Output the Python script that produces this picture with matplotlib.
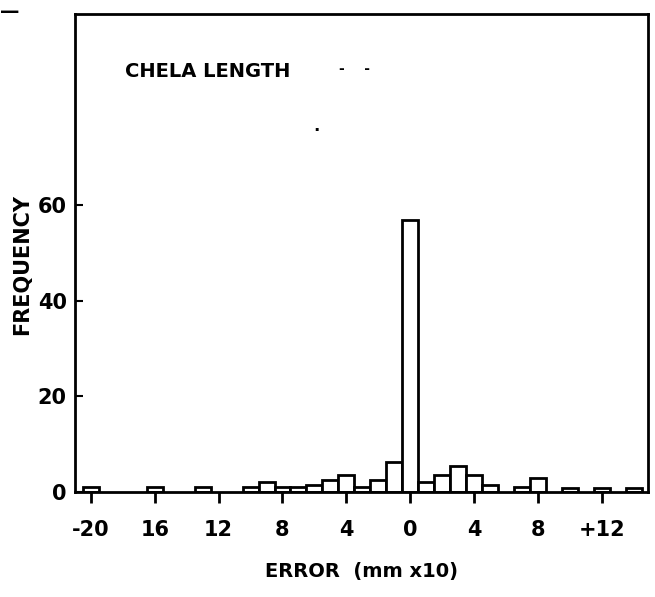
import matplotlib
matplotlib.use("Agg")
import matplotlib.pyplot as plt

# error classes (mm x 10) and how many measurements fell in each
error = [-20, -16, -13, -10, -9, -8, -7, -6, -5, -4, -3, -2, -1, 0,
         1, 2, 3, 4, 5, 7, 8, 10, 12, 14]
freq = [1, 1, 1, 1, 2, 1, 1, 1.5, 2.5, 3.5, 1, 2.5, 6.3, 57,
        2, 3.5, 5.5, 3.5, 1.5, 1, 3, 0.8, 0.8, 0.8]

tick_pos = [-20, -16, -12, -8, -4, 0, 4, 8, 12]
tick_lab = ["-20", "16", "12", "8", "4", "0", "4", "8", "+12"]

plt.rcParams['font.family'] = ['DejaVu Sans']
plt.rcParams['font.weight'] = 'bold'
plt.rcParams['axes.labelweight'] = 'bold'

fig = plt.figure(figsize=(6.55, 5.97), dpi=100)
ax = fig.add_axes([75/655, 105/597, 573/655, 478/597])

ax.bar(error, freq, width=1.0, color='white', edgecolor='black', linewidth=2)

ax.set_xlim(-21, 14.9)
ax.set_ylim(0, 100)

ax.set_xticks(tick_pos)
ax.set_xticklabels(tick_lab, fontsize=15)
ax.set_yticks([0, 20, 40, 60])
ax.set_yticklabels(["0", "20", "40", "60"], fontsize=15)
ax.tick_params(axis='x', direction='out', length=8, width=2, pad=12)
ax.tick_params(axis='y', direction='in', length=6, width=1.5, pad=6)

for s in ax.spines.values():
    s.set_linewidth(2)

ax.set_xlabel("ERROR  (mm x10)", fontsize=14, labelpad=16)
ax.set_ylabel("FREQUENCY", fontsize=15)
ax.yaxis.set_label_coords(-0.075, 0.475)

ax.text(0.087, 0.879, "CHELA LENGTH", transform=ax.transAxes, fontsize=14, va='center')
ax.text(0.46, 0.884, "-    -", transform=ax.transAxes, fontsize=10, va='center')
ax.text(0.415, 0.765, ".", transform=ax.transAxes, fontsize=12, va='center')
fig.text(0.0, 0.98, "\u2014", fontsize=14, va='center')

fig.savefig("out.png", dpi=100)
